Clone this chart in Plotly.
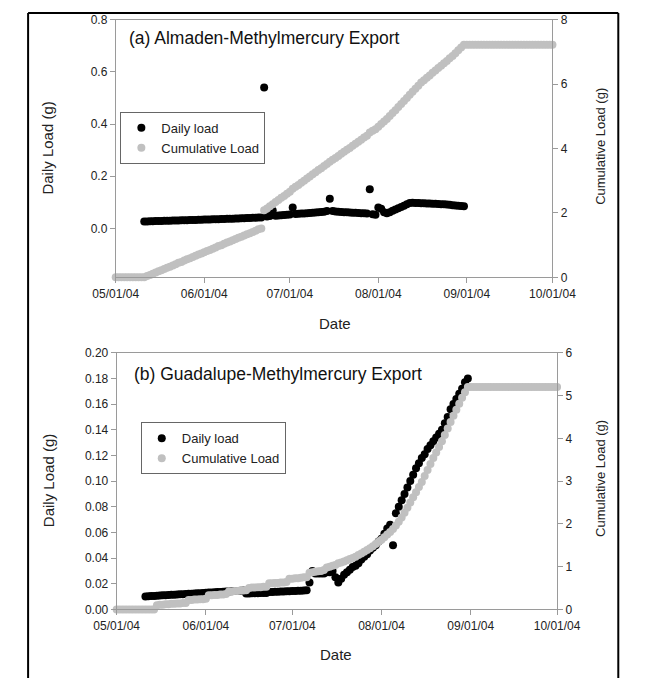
import pandas as pd
import plotly.graph_objects as go

W, H = 646, 685
FONT = "Arial, Liberation Sans, Helvetica, sans-serif"

# ---------------- data ----------------
month_ticks = ["2004-05-01", "2004-06-01", "2004-07-01", "2004-08-01", "2004-09-01", "2004-10-01"]
month_labels = ["05/01/04", "06/01/04", "07/01/04", "08/01/04", "09/01/04", "10/01/04"]

# (a) Almaden - daily load (g), one value per day from 2004-05-11
a_daily_start = "2004-05-11"
a_daily = [
    0.026, 0.026, 0.027, 0.027, 0.028, 0.028, 0.028, 0.029, 0.029, 0.029, 0.030, 0.030, 0.030, 0.031, 0.031, 0.031,
    0.032, 0.032, 0.032, 0.033, 0.033,
    0.034, 0.034, 0.034, 0.035, 0.035, 0.035, 0.036, 0.036, 0.037, 0.037,
    0.037, 0.038, 0.038, 0.039, 0.039, 0.040, 0.040, 0.041, 0.041, 0.042,
    0.042, 0.540, 0.045, 0.047, 0.068, 0.048, 0.049, 0.050, 0.051, 0.052,
    0.053, 0.080, 0.055, 0.056, 0.057, 0.057, 0.058, 0.059, 0.060, 0.061,
    0.062, 0.063, 0.064, 0.066, 0.113, 0.066, 0.065, 0.064, 0.063, 0.062,
    0.062, 0.061, 0.060, 0.060, 0.059, 0.058, 0.058, 0.057, 0.150, 0.054,
    0.052,
    0.080, 0.075, 0.062, 0.058, 0.062, 0.067, 0.072, 0.077, 0.082, 0.087,
    0.092, 0.097, 0.098, 0.097, 0.097, 0.096, 0.096, 0.095, 0.095, 0.094,
    0.094, 0.093, 0.092, 0.092, 0.091, 0.090, 0.089, 0.088, 0.087, 0.086,
    0.085,
]

# (a) Almaden - cumulative load (g), one value per day from 2004-05-01
a_cum_start = "2004-05-01"
a_cum = [
    0.0, 0.0, 0.0, 0.0, 0.0, 0.0, 0.0, 0.0, 0.0, 0.0,
    0.00, 0.04, 0.07, 0.11, 0.15, 0.19, 0.22, 0.26, 0.30, 0.33,
    0.37, 0.41, 0.45, 0.48, 0.52, 0.56, 0.59, 0.63, 0.67, 0.71,
    0.74, 0.78, 0.82, 0.85, 0.89, 0.93, 0.97, 1.00, 1.04, 1.08,
    1.11, 1.15, 1.19, 1.23, 1.26, 1.30, 1.34, 1.37, 1.41, 1.45,
    1.49, 1.52,
    2.08, 2.14, 2.21, 2.27, 2.34, 2.40, 2.47, 2.53, 2.60, 2.66,
    2.75, 2.81, 2.87, 2.94, 3.00, 3.07, 3.13, 3.20, 3.26, 3.33,
    3.39, 3.46, 3.52, 3.59, 3.65, 3.71, 3.77, 3.84, 3.90, 3.96,
    4.02, 4.09, 4.15, 4.21, 4.27, 4.34, 4.40, 4.50, 4.55, 4.60,
    4.68, 4.76, 4.84, 4.92, 5.01, 5.10, 5.19, 5.29, 5.38, 5.48,
    5.57, 5.67, 5.76, 5.86, 5.95, 6.05, 6.12, 6.20, 6.27, 6.35,
    6.42, 6.50, 6.57, 6.65, 6.72, 6.80, 6.87, 6.96, 7.05, 7.14, 7.22,
    7.22, 7.22, 7.22, 7.22, 7.22, 7.22, 7.22, 7.22, 7.22, 7.22,
    7.22, 7.22, 7.22, 7.22, 7.22, 7.22, 7.22, 7.22, 7.22, 7.22,
    7.22, 7.22, 7.22, 7.22, 7.22, 7.22, 7.22, 7.22, 7.22, 7.22,
    7.22,
]

# (b) Guadalupe - daily load (g), one value per day from 2004-05-11
b_daily_start = "2004-05-11"
b_daily = [
    0.0100, 0.0102, 0.0104, 0.0105, 0.0107, 0.0108, 0.0110, 0.0111, 0.0112, 0.0114,
    0.0115, 0.0116, 0.0118, 0.0119, 0.0120, 0.0122, 0.0123, 0.0124, 0.0126, 0.0127,
    0.0128, 0.0130, 0.0131, 0.0132, 0.0134, 0.0135, 0.0136, 0.0138, 0.0139, 0.0140,
    0.0142, 0.0143, 0.0144, 0.0146, 0.0147,
    0.0125, 0.0125, 0.0126, 0.0127, 0.0127, 0.0128, 0.0128, 0.0129,
    0.0135, 0.0136, 0.0137, 0.0138, 0.0139, 0.0140, 0.0141, 0.0142, 0.0143, 0.0144,
    0.0145, 0.0146, 0.0147, 0.0150,
    0.021, 0.030, 0.028, 0.028, 0.028, 0.028, 0.029, 0.029, 0.030, 0.025,
    0.021, 0.024, 0.027, 0.029, 0.031, 0.033, 0.034, 0.036, 0.039, 0.041,
    0.043, 0.046, 0.048, 0.050, 0.053, 0.055, 0.059, 0.063, 0.066, 0.050,
    0.075, 0.080, 0.085, 0.090, 0.095, 0.100, 0.105, 0.110, 0.114, 0.118,
    0.121, 0.125, 0.128, 0.131, 0.134, 0.137, 0.140, 0.145, 0.150, 0.156,
    0.160, 0.164, 0.168, 0.172, 0.177, 0.180,
]

# (b) Guadalupe - cumulative load (g), one value per day from 2004-05-01
b_cum_start = "2004-05-01"
b_cum = [
    0.0, 0.0, 0.0, 0.0, 0.0, 0.0, 0.0, 0.0, 0.0, 0.0, 0.0, 0.0, 0.0, 0.0,
    0.10, 0.11, 0.11, 0.12, 0.12, 0.13, 0.13, 0.14, 0.14, 0.15, 0.15,
    0.22, 0.22, 0.23, 0.23, 0.24, 0.24, 0.25,
    0.33, 0.33, 0.34, 0.34, 0.35, 0.35, 0.36,
    0.42, 0.42, 0.43, 0.43, 0.44, 0.44, 0.45,
    0.50, 0.51, 0.51, 0.52, 0.52, 0.53, 0.53,
    0.61, 0.61, 0.62, 0.62, 0.63, 0.63, 0.64,
    0.72, 0.72, 0.73, 0.73, 0.74, 0.75, 0.75,
    0.86, 0.87, 0.88, 0.89, 0.90, 0.92,
    0.98, 1.00, 1.02, 1.04, 1.08, 1.10, 1.12, 1.15, 1.18, 1.20,
    1.23, 1.27, 1.31, 1.35, 1.39, 1.43, 1.48, 1.53, 1.58, 1.63,
    1.69, 1.75, 1.81, 1.88, 1.96, 2.05, 2.15, 2.26, 2.38, 2.50,
    2.62, 2.74, 2.86, 2.98, 3.12, 3.26, 3.40, 3.54, 3.67, 3.80,
    3.93, 4.08, 4.23, 4.38, 4.53, 4.67, 4.81, 4.95, 5.08, 5.20,
    5.20, 5.20, 5.20, 5.20, 5.20, 5.20, 5.20, 5.20, 5.20, 5.20,
    5.20, 5.20, 5.20, 5.20, 5.20, 5.20, 5.20, 5.20, 5.20, 5.20,
    5.20, 5.20, 5.20, 5.20, 5.20, 5.20, 5.20, 5.20, 5.20, 5.20,
    5.20,
]

series_names = ["Daily load", "Cumulative Load"]
panel_titles = ["(a) Almaden-Methylmercury Export", "(b) Guadalupe-Methylmercury Export"]


def dates(start, vals):
    return pd.date_range(start, periods=len(vals), freq="D")


# ---------------- figure ----------------
BLACK = "#000000"
GRAY = "#c0c0c0"
AXC = "#9a9a9a"
TXT = "#222222"


def fx(p):
    return p / W


def fy(p):
    return 1 - p / H


fig = go.Figure()

fig.add_trace(go.Scatter(x=dates(a_daily_start, a_daily), y=a_daily, mode="markers", name=series_names[0],
                         marker=dict(color=BLACK, size=8), xaxis="x", yaxis="y", legend="legend",
                         cliponaxis=False))
fig.add_trace(go.Scatter(x=dates(a_cum_start, a_cum), y=a_cum, mode="markers", name=series_names[1],
                         marker=dict(color=GRAY, size=8), xaxis="x", yaxis="y2", legend="legend",
                         cliponaxis=False))
fig.add_trace(go.Scatter(x=dates(b_daily_start, b_daily), y=b_daily, mode="markers", name=series_names[0],
                         marker=dict(color=BLACK, size=8), xaxis="x2", yaxis="y3", legend="legend2",
                         cliponaxis=False))
fig.add_trace(go.Scatter(x=dates(b_cum_start, b_cum), y=b_cum, mode="markers", name=series_names[1],
                         marker=dict(color=GRAY, size=8), xaxis="x2", yaxis="y4", legend="legend2",
                         cliponaxis=False))

tickfont = dict(family=FONT, size=12, color=TXT)
common_axis = dict(showline=True, linecolor=AXC, linewidth=1, ticks="outside", ticklen=5, tickcolor=AXC,
                   tickwidth=1, showgrid=False, zeroline=False, tickfont=tickfont)

xcommon = dict(common_axis, type="date", range=[month_ticks[0], month_ticks[-1]], tickvals=month_ticks,
               ticktext=month_labels, mirror=True)

fig.update_layout(
    width=W, height=H, autosize=False,
    margin=dict(l=0, r=0, t=0, b=0),
    paper_bgcolor="white", plot_bgcolor="white",
    font=dict(family=FONT, color=TXT),
    xaxis=dict(xcommon, domain=[fx(100), fx(571)], anchor="y"),
    yaxis=dict(common_axis, domain=[fy(276), fy(13)], anchor="x", range=[-0.188, 0.8],
               tick0=0, dtick=0.2, tickformat=".1f"),
    yaxis2=dict(common_axis, overlaying="y", side="right", anchor="x", range=[0, 8], tick0=0, dtick=2),
    xaxis2=dict(xcommon, domain=[fx(101), fx(576)], anchor="y3"),
    yaxis3=dict(common_axis, domain=[fy(615), fy(353)], anchor="x2", range=[0, 0.2],
                tick0=0, dtick=0.02, tickformat=".2f"),
    yaxis4=dict(common_axis, overlaying="y3", side="right", anchor="x2", range=[0, 6], tick0=0, dtick=1),
    legend=dict(x=fx(105), y=fy(107), xanchor="left", yanchor="top", bordercolor="#666666", borderwidth=1,
                bgcolor="white", font=dict(family=FONT, size=13, color=TXT)),
    legend2=dict(x=fx(127), y=fy(424), xanchor="left", yanchor="top", bordercolor="#666666", borderwidth=1,
                 bgcolor="white", font=dict(family=FONT, size=13, color=TXT)),
    showlegend=True,
)

ann = []
ann.append(dict(text=panel_titles[0], x=fx(112), y=fy(32), xref="paper", yref="paper", xanchor="left",
                yanchor="middle", showarrow=False, font=dict(family=FONT, size=17.5, color="#111111")))
ann.append(dict(text=panel_titles[1], x=fx(118), y=fy(375), xref="paper", yref="paper", xanchor="left",
                yanchor="middle", showarrow=False, font=dict(family=FONT, size=17.5, color="#111111")))
for yc in (144.5, 484):
    ann.append(dict(text="Daily Load (g)", x=fx(27), y=fy(yc), xref="paper", yref="paper", textangle=-90,
                    xanchor="center", yanchor="middle", showarrow=False, font=dict(family=FONT, size=15, color=TXT)))
for yc in (142, 481):
    ann.append(dict(text="Cumulative Load (g)", x=fx(622), y=fy(yc), xref="paper", yref="paper", textangle=-90,
                    xanchor="center", yanchor="middle", showarrow=False, font=dict(family=FONT, size=13, color=TXT)))
for xc, yc in ((336, 323), (338, 661)):
    ann.append(dict(text="Date", x=fx(xc), y=fy(yc), xref="paper", yref="paper", xanchor="center",
                    yanchor="middle", showarrow=False, font=dict(family=FONT, size=15, color=TXT)))
fig.update_layout(annotations=ann)

# outer frame
frame = dict(type="line", xref="paper", yref="paper", line=dict(color="black", width=2))
fig.update_layout(shapes=[
    dict(frame, x0=fx(5.5), x1=fx(5.5), y0=fy(6), y1=0),
    dict(frame, x0=fx(5.5), x1=fx(642), y0=fy(6), y1=fy(6)),
    dict(frame, x0=fx(642), x1=fx(642), y0=fy(6), y1=0),
])

fig.write_html("out.html")
